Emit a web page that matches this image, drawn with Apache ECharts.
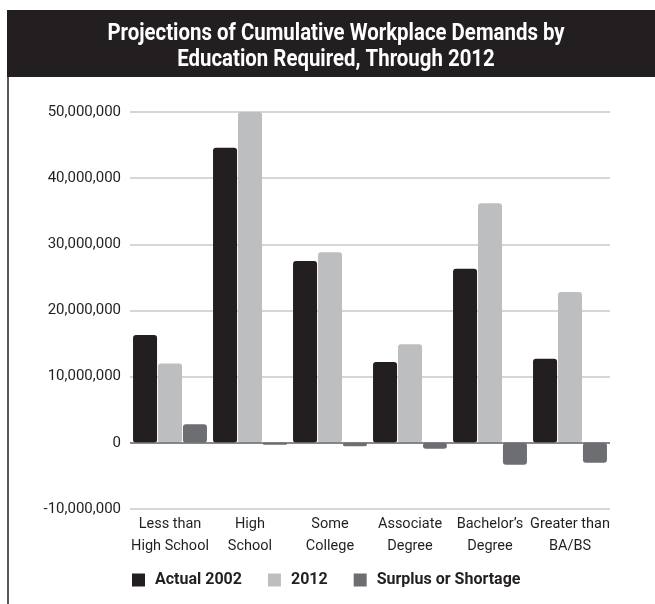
<!DOCTYPE html>
<html>
<head>
<meta charset="utf-8">
<script src="https://cdn.jsdelivr.net/npm/echarts@6/dist/echarts.min.js"></script>
<style>
  html, body { margin: 0; padding: 0; background: #ffffff; }
  #chart { width: 655px; height: 604px; }
</style>
</head>
<body>
<div id="chart"></div>
<script>
// Education levels on the x axis
const categories = [
  'Less than\nHigh School',
  'High\nSchool',
  'Some\nCollege',
  'Associate\nDegree',
  "Bachelor\u2019s\nDegree",
  'Greater than\nBA/BS'
];

// Workplace demand, number of jobs
const actual2002 = [16300000, 44600000, 27500000, 12200000, 26300000, 12700000];
const projected2012 = [12000000, 50200000, 28800000, 14900000, 36200000, 22800000];
const surplusShortage = [2800000, -300000, -500000, -900000, -3300000, -3000000];

const seriesNames = ['Actual 2002', '2012', 'Surplus or Shortage'];
const titleLines = ['Projections of Cumulative Workplace Demands by', 'Education Required, Through 2012'];

const FONT = 'Roboto, "Liberation Sans", sans-serif';
const INK = '#231f20';
const colors = ['#231f20', '#bcbec0', '#6d6e71'];

const chart = echarts.init(document.getElementById('chart'), null, { renderer: 'canvas' });

function barSeries(name, data, color, withZeroLine) {
  const s = {
    name: name,
    type: 'bar',
    data: data,
    barWidth: 24,
    barGap: '4%',
    itemStyle: { color: color, borderRadius: 3 },
    emphasis: { disabled: true }
  };
  if (withZeroLine) {
    s.markLine = {
      silent: true,
      symbol: 'none',
      label: { show: false },
      lineStyle: { color: '#6d6e71', width: 1.5, type: 'solid' },
      data: [{ yAxis: 0 }]
    };
  }
  return s;
}

// Condensed-looking heading: bold text narrowed horizontally around its centre
function headingLine(text, y) {
  return {
    type: 'text',
    x: 336,
    y: y,
    scaleX: 0.85,
    style: {
      text: text,
      fill: '#ffffff',
      font: 'bold 24px ' + FONT,
      textAlign: 'center',
      textVerticalAlign: 'middle'
    },
    z: 10
  };
}

chart.setOption({
  animation: false,
  backgroundColor: '#ffffff',
  color: colors,
  graphic: [
    { type: 'rect', left: 7, top: 10, shape: { width: 648, height: 67 }, style: { fill: INK }, z: -1 },
    { type: 'line', shape: { x1: 8, y1: 76, x2: 8, y2: 604 }, style: { stroke: INK, lineWidth: 1.5 }, z: -1 },
    headingLine(titleLines[0], 34),
    headingLine(titleLines[1], 60)
  ],
  legend: {
    data: seriesNames,
    left: 132,
    top: 572,
    padding: 0,
    itemWidth: 13,
    itemHeight: 13,
    itemGap: 26,
    icon: 'rect',
    selectedMode: false,
    textStyle: {
      color: INK,
      fontFamily: FONT,
      fontWeight: 'bold',
      fontSize: 16,
      padding: [0, 0, 0, 5]
    }
  },
  grid: { left: 130, right: 45, top: 112, bottom: 95, containLabel: false },
  xAxis: {
    type: 'category',
    data: categories,
    axisLine: { show: false, onZero: false },
    axisTick: { show: false },
    axisLabel: {
      color: INK,
      fontFamily: FONT,
      fontSize: 14.5,
      lineHeight: 22,
      margin: 4,
      interval: 0
    },
    splitLine: { show: false }
  },
  yAxis: {
    type: 'value',
    min: -10000000,
    max: 50000000,
    interval: 10000000,
    axisLine: { show: false },
    axisTick: { show: false },
    axisLabel: {
      color: INK,
      fontFamily: FONT,
      fontSize: 15,
      margin: 9,
      formatter: v => v.toLocaleString('en-US')
    },
    splitLine: { lineStyle: { color: '#c8c9cb', width: 1.5 } }
  },
  series: [
    barSeries(seriesNames[0], actual2002, colors[0], false),
    barSeries(seriesNames[1], projected2012, colors[1], false),
    barSeries(seriesNames[2], surplusShortage, colors[2], true)
  ]
});
</script>
</body>
</html>
